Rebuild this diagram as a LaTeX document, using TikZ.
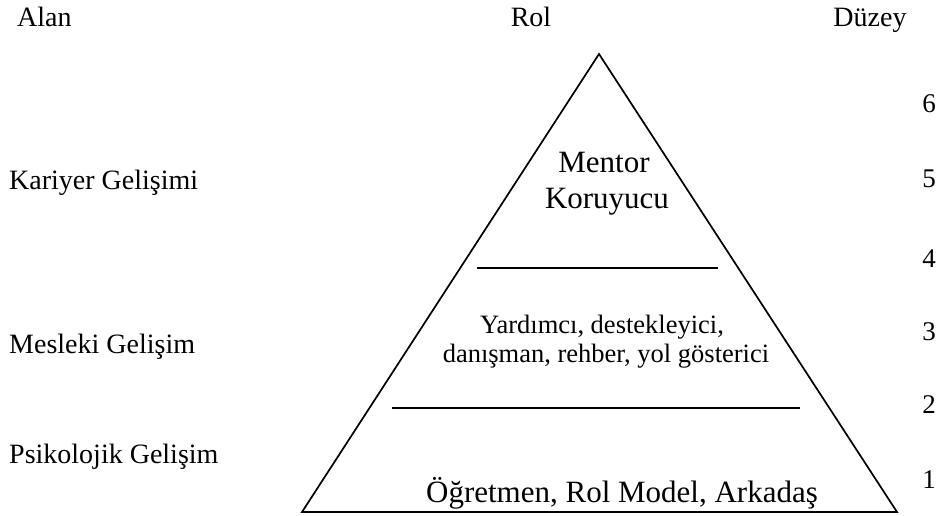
\documentclass[tikz,border=0pt]{standalone}
\usepackage{fontspec}
\setmainfont{Liberation Serif}
\usepackage{tikz}

\tikzset{
  txt/.style={inner sep=0pt, anchor=base},
  side/.style={txt, anchor=base west, font=\fontsize{28}{32}\selectfont},
  head/.style={txt, font=\fontsize{28}{32}\selectfont},
  level/.style={txt, font=\fontsize{27}{32}\selectfont},
  big/.style={txt, font=\fontsize{31}{36}\selectfont},
  small/.style={txt, font=\fontsize{26.5}{30}\selectfont},
  edge/.style={line width=1.7pt, line join=miter},
}

\begin{document}
\begin{tikzpicture}[x=1pt, y=-1pt]
            \useasboundingbox (0,0) rectangle (939,515);

            % Basliklar
            \node[side] (alan) at (17,26) {Alan};
            \node[head] (rol) at (531,26) {Rol};
            \node[head] (duzey) at (870,26) {Düzey};

            % Piramit
            \coordinate (tepe) at (599,54);
            \coordinate (solalt) at (302,512);
            \coordinate (sagalt) at (897,512);
            \draw[edge] (tepe) -- (sagalt) -- (solalt) -- cycle;

            % Ara cizgiler
            \coordinate (ust1) at (477,268);
            \coordinate (ust2) at (718,268);
            \coordinate (alt1) at (392,408);
            \coordinate (alt2) at (800,408);
            \draw[edge] (ust1) -- (ust2);
            \draw[edge] (alt1) -- (alt2);

            % Roller
            \node[big] (mentor) at (604,172) {Mentor};
            \node[big] (koruyucu) at (607,208) {Koruyucu};
            \node[small] (yardimci) at (602,333) {Yardımcı, destekleyici,};
            \node[small] (danisman) at (606,362) {danışman, rehber, yol gösterici};
            \node[big] (ogretmen) at (622,502) {Öğretmen, Rol Model, Arkadaş};

            % Alanlar
            \node[side] (kariyer) at (9,189) {Kariyer Gelişimi};
            \node[side] (mesleki) at (9,353) {Mesleki Gelişim};
            \node[side] (psikolojik) at (9,463) {Psikolojik Gelişim};

            % Duzeyler
            \foreach \d/\y in {6/112, 5/187, 4/267, 3/340, 2/413, 1/488}
                \node[level] (duzey\d) at (929,\y) {\d};
\end{tikzpicture}
\end{document}
